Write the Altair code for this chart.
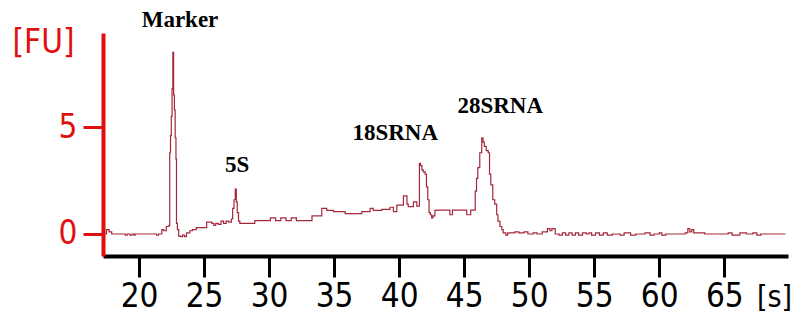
import altair as alt
import pandas as pd

# Electropherogram trace (migration time [s], fluorescence [FU])
times = [17.25, 17.5, 17.7, 17.9, 18.95, 19.1, 19.3, 19.45, 19.6, 19.7, 21.35, 21.5, 21.75, 21.9, 22.1, 22.3,
         22.36, 22.42, 22.48, 22.54, 22.6, 22.66, 22.72, 22.78, 22.84, 22.88, 22.95, 23.05, 23.2, 23.35, 23.5,
         23.65, 23.9, 24.1, 24.4, 25.2, 25.6, 25.75, 25.9, 26.1, 26.3, 26.5, 26.7, 26.9,
         27.1, 27.2, 27.3, 27.4, 27.48, 27.55, 27.65, 27.75, 28.9, 30.1, 30.5, 30.9, 31.3, 31.7, 32.1, 33.3,
         34.05, 34.44, 34.95, 35.85, 37.13, 37.77, 38.0, 38.67, 39.3, 39.56, 39.82, 40.33, 40.6, 40.7, 41.1, 41.36,
         41.56, 41.65, 41.75, 41.85, 42.0, 42.1, 42.2, 42.3, 42.4, 42.5, 42.6, 42.75, 42.9, 43.9, 44.1, 45.2, 45.5,
         45.85, 45.95, 46.05, 46.2, 46.35, 46.45, 46.55, 46.7, 46.85, 46.95, 47.05, 47.2, 47.35, 47.5, 47.6, 47.75,
         47.9, 48.0, 48.2, 48.35, 48.5, 48.9, 49.2, 49.6, 49.9, 50.3, 50.6, 51.0, 51.4, 51.6, 51.75, 52.0, 52.3,
         52.55, 52.8, 53.05, 53.3, 53.55, 53.8, 54.1, 54.4, 54.6, 54.8, 55.1, 55.4, 55.7, 56.0, 56.4, 57.0, 57.3,
         57.8, 58.2, 58.9, 59.3, 59.6, 60.0, 60.2, 60.5, 62.0, 62.2, 62.35, 62.5, 62.65, 63.5, 64.6, 65.3, 65.6,
         66.2, 66.7, 67.2, 67.5, 67.8, 69.7]
fu = [0.0, 0.2, 0.1, 0.0, -0.06, 0.0, -0.06, 0.0, -0.06, 0.0, -0.06, 0.0, 0.2, 0.15, 0.35, 0.4,
      3.8, 4.6, 5.5, 6.8, 8.5, 6.5, 5.8, 4.5, 3.5, 0.5, 0.2, -0.1, -0.12, -0.05, -0.12,
      0.05, 0.15, 0.2, 0.3, 0.55, 0.5, 0.4, 0.5, 0.45, 0.6, 0.5, 0.6, 0.55,
      0.7, 1.2, 1.6, 2.1, 1.5, 1.0, 0.6, 0.5, 0.62, 0.75, 0.62, 0.75, 0.62, 0.75, 0.62, 0.85,
      1.2, 1.1, 1.05, 0.95, 1.05, 1.2, 1.1, 1.15, 1.25, 1.05, 1.35, 1.78, 1.4, 1.28, 1.5, 1.3,
      3.3, 3.2, 3.0, 2.9, 2.8, 2.2, 1.6, 1.0, 0.9, 0.75, 0.85, 1.1, 1.12, 0.9, 1.12, 0.9, 1.12,
      2.0, 2.6, 3.1, 3.8, 4.5, 4.3, 4.1, 3.9, 3.8, 2.8, 2.3, 1.6, 1.4, 0.9, 0.6, 0.35,
      0.2, 0.05, -0.05, 0.05, 0.05, 0.1, 0.05, 0.1, 0.0, 0.05, 0.0, 0.1, 0.25, 0.15, 0.25, 0.0, -0.05,
      0.05, -0.05, 0.05, -0.05, 0.05, -0.05, 0.05, 0.0, 0.05, -0.05, 0.05, -0.05, 0.05, -0.05, 0.0, -0.05, 0.05,
      -0.05, 0.0, 0.05, -0.05, 0.0, 0.05, -0.05, 0.0, 0.05, 0.25, 0.1, 0.2, 0.05, 0.0, 0.0, 0.05, -0.05,
      0.05, 0.0, 0.05, -0.05, 0.0, 0.0]

# Peak annotations
peak_labels = ["Marker", "5S", "18SRNA", "28SRNA"]
peak_x = [23.15, 27.54, 39.7, 47.77]
peak_y = [10.0, 3.22, 4.72, 5.98]

x_ticks = [20, 25, 30, 35, 40, 45, 50, 55, 60, 65]
y_ticks = [0, 5]

trace = pd.DataFrame({"t": times, "fu": fu, "i": range(len(times))})
labels = pd.DataFrame({"label": peak_labels, "t": peak_x, "fu": peak_y})

RED = "#e01010"
NUMFONT = "Liberation Sans Narrow, DejaVu Sans Condensed, Arial Narrow, sans-serif"

x_scale = alt.Scale(domain=[17.23, 69.9], nice=False, zero=False)
y_scale = alt.Scale(domain=[-1.03, 9.4], nice=False, zero=False)

x_axis = alt.Axis(
    values=x_ticks, grid=False, domainColor="black", domainWidth=4,
    tickColor="black", tickWidth=3, tickSize=21, labelFontSize=33, labelFont=NUMFONT,
    labelColor="black", labelPadding=3, title="[s]", titleFont=NUMFONT, titleFontSize=30,
    titleFontWeight="normal", titleColor="black", titleX=671, titleY=41,
    titleBaseline="middle", titleAlign="center", titleAngle=0,
)
y_axis = alt.Axis(
    values=y_ticks, grid=False, domainColor=RED, domainWidth=4,
    tickColor=RED, tickWidth=3, tickSize=20, labelFontSize=33, labelFont=NUMFONT,
    labelColor=RED, labelPadding=6, title="[FU]", titleFont=NUMFONT, titleFontSize=33,
    titleFontWeight="normal", titleColor=RED, titleX=-60, titleY=9,
    titleBaseline="middle", titleAlign="center", titleAngle=0,
)

line = alt.Chart(trace).mark_line(
    color="#a3283c", strokeWidth=1.2, interpolate="step-after"
).encode(
    x=alt.X("t:Q", scale=x_scale, axis=x_axis),
    y=alt.Y("fu:Q", scale=y_scale, axis=y_axis),
    order="i:Q",
)

text = alt.Chart(labels).mark_text(
    font="Liberation Serif, Times New Roman, serif", fontWeight="bold", fontSize=23,
    color="black", baseline="middle", align="center",
).encode(
    x=alt.X("t:Q", scale=x_scale),
    y=alt.Y("fu:Q", scale=y_scale),
    text="label:N",
)

chart = alt.layer(line, text).properties(
    width=685, height=223,
    padding={"left": 95, "top": 25, "right": 13, "bottom": 59},
    autosize=alt.AutoSizeParams(type="none"),
    background="white",
).configure_view(stroke=None)

chart.save("out.html", embed_options={"renderer": "svg", "actions": False})
